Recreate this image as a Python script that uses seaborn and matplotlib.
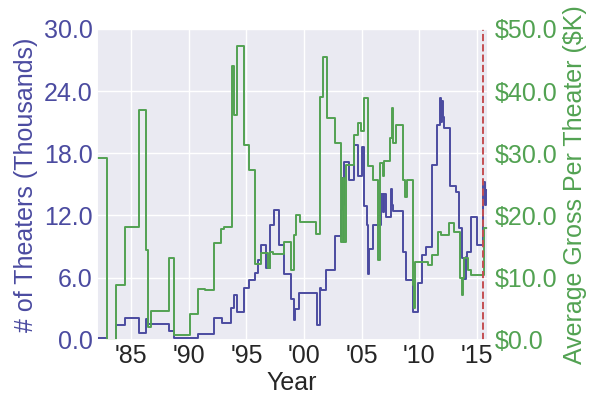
import numpy as np
import pandas as pd
import matplotlib
matplotlib.use("Agg")
import matplotlib.pyplot as plt
import seaborn as sns

# theater counts (thousands), step changes by year
theater_years = [1982.0, 1982.92, 1983.7, 1984.48, 1985.66, 1986.3, 1986.5, 1988.24, 1988.7,
                 1990.78, 1992.17, 1992.9, 1993.68, 1993.9, 1994.17, 1994.78, 1995.2, 1995.76,
                 1996.0, 1996.3, 1996.7, 1997.0, 1997.35, 1997.8, 1998.25, 1998.9, 1999.1,
                 1999.2, 1999.57, 2001.1, 2001.39, 2001.5, 2001.88, 2002.69, 2003.18, 2003.3,
                 2003.4, 2003.47, 2003.85, 2004.34, 2004.63, 2005.06, 2005.2, 2005.44, 2005.5,
                 2005.64, 2005.93, 2006.7, 2006.85, 2006.95, 2007.1, 2007.55, 2007.62, 2007.68,
                 2008.55, 2008.84, 2009.42, 2009.86, 2010.2, 2010.58, 2011.1, 2011.53, 2011.82,
                 2011.9, 2011.95, 2012.05, 2012.17, 2012.66, 2013.13, 2013.47, 2013.7, 2013.9,
                 2014.0, 2014.1, 2014.48, 2014.98, 2015.55, 2015.65, 2015.75, 2015.93]
theaters = [0.2, 0.0, 1.45, 2.15, 0.65, 2.0, 1.55, 0.87, 0.16,
            0.55, 2.15, 1.67, 3.05, 4.34, 2.67, 4.99, 5.79, 6.43,
            7.7, 9.16, 6.9, 11.1, 12.5, 9.16, 6.4, 3.95, 1.9,
            3.0, 4.5, 1.45, 5.0, 4.8, 6.75, 10.0, 12.5, 15.6,
            13.0, 17.2, 15.4, 18.8, 15.8, 18.6, 12.9, 11.1, 6.4,
            8.8, 11.1, 14.1, 12.3, 14.1, 11.9, 14.6, 13.0, 12.4,
            8.5, 5.8, 2.7, 5.5, 8.2, 9.0, 16.9, 20.7, 23.3,
            21.0, 23.0, 21.5, 20.4, 14.8, 14.3, 10.8, 7.9, 5.9,
            8.0, 8.5, 11.9, 9.2, 15.2, 13.0, 14.5, 14.5]

# average gross per theater ($K)
gross_years = [1982.0, 1982.92, 1983.7, 1984.48, 1985.66, 1986.3, 1986.44, 1986.74, 1988.24,
               1988.7, 1990.06, 1990.78, 1991.36, 1992.17, 1992.75, 1993.04, 1993.73, 1993.9,
               1994.17, 1994.78, 1995.2, 1995.76, 1996.3, 1996.85, 1997.0, 1997.3, 1998.25,
               1998.9, 1999.1, 1999.32, 1999.65, 2001.0, 2001.39, 2001.65, 2001.94, 2002.69,
               2003.18, 2003.33, 2003.45, 2003.6, 2004.34, 2004.63, 2004.92, 2005.2, 2005.5,
               2005.93, 2006.37, 2006.57, 2006.8, 2006.94, 2007.46, 2007.63, 2007.7, 2007.97,
               2008.55, 2008.78, 2008.9, 2009.42, 2009.5, 2009.6, 2009.65, 2010.72, 2011.1,
               2011.6, 2011.88, 2012.6, 2013.04, 2013.56, 2013.65, 2013.75, 2013.9, 2014.2,
               2014.48, 2015.58, 2015.93]
gross = [29.3, 0.0, 8.8, 18.2, 37.0, 14.5, 2.1, 4.6, 13.2,
         0.8, 4.1, 8.2, 8.0, 15.5, 17.8, 18.2, 44.0, 36.2,
         47.2, 31.4, 27.3, 12.2, 14.0, 11.5, 14.2, 13.8, 15.8,
         11.3, 16.9, 20.1, 19.0, 17.1, 39.1, 45.4, 35.6, 31.6,
         15.8, 26.0, 15.8, 28.1, 33.0, 34.8, 33.5, 38.9, 27.9,
         25.7, 12.9, 28.4, 26.3, 28.7, 32.4, 37.2, 31.6, 34.6,
         25.7, 23.0, 25.7, 8.8, 5.1, 8.8, 12.6, 12.1, 13.7,
         17.4, 16.9, 18.8, 17.4, 9.9, 7.2, 9.9, 13.1, 11.3,
         10.5, 18.0, 18.0]

tick_years = [1985, 1990, 1995, 2000, 2005, 2010, 2015]
tick_labels = ["'85", "'90", "'95", "'00", "'05", "'10", "'15"]
marker_year = 2015.55

df_t = pd.DataFrame({"Year": theater_years, "Theaters": theaters})
df_g = pd.DataFrame({"Year": gross_years, "Gross": gross})

sns.set_theme(style="darkgrid")
plt.rcParams['font.family'] = ['Liberation Sans', 'DejaVu Sans']

blue = "#4B4BA0"
green = "#52A252"
red = "#C44E52"
fs = 18

fig = plt.figure(figsize=(6, 4.12), dpi=100)
ax = fig.add_axes([0.161, 0.175, 0.652, 0.755])
sns.lineplot(data=df_t, x="Year", y="Theaters", ax=ax, color=blue, lw=1.4,
             drawstyle="steps-post", estimator=None)
ax.set_ylim(0, 30)
ax.set_yticks(np.arange(0, 31, 6))
ax.set_yticklabels(["%.1f" % v for v in np.arange(0, 31, 6)], color=blue, fontsize=fs)
ax.set_ylabel("# of Theaters (Thousands)", color=blue, fontsize=fs, labelpad=4)
ax.set_xlim(1982.0, 2015.93)
ax.set_xticks(tick_years)
ax.set_xticklabels(tick_labels, fontsize=fs)
ax.set_xlabel("Year", fontsize=fs, labelpad=2)
ax.tick_params(axis='both', length=0, pad=3)

ax2 = ax.twinx()
sns.lineplot(data=df_g, x="Year", y="Gross", ax=ax2, color=green, lw=1.4,
             drawstyle="steps-post", estimator=None)
ax2.set_ylim(0, 50)
ax2.set_yticks(np.arange(0, 51, 10))
ax2.set_yticklabels(["$%.1f" % v for v in np.arange(0, 51, 10)], color=green, fontsize=fs)
ax2.set_ylabel("Average Gross Per Theater ($K)", color=green, fontsize=fs, labelpad=4)
ax2.grid(False)
ax2.tick_params(axis='y', length=0, pad=5)
ax2.axvline(marker_year, color=red, ls="--", lw=1.4)
ax2.set_xlim(1982.0, 2015.93)

fig.savefig("out.png", dpi=100)
